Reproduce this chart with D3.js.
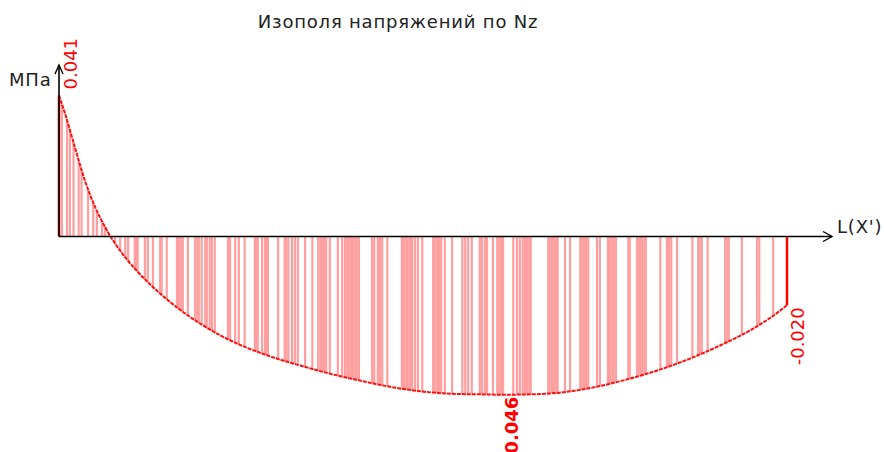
<!DOCTYPE html>
<html>
<head>
<meta charset="utf-8">
<script src="https://cdn.jsdelivr.net/npm/d3@7"></script>
<style>
  html, body { margin: 0; padding: 0; background: #fff; }
  svg { display: block; }
</style>
</head>
<body>
<svg id="chart" width="884" height="452"></svg>
<script>
// Stress diagram along the member length (stations in m, stresses in MPa)
const stations = [0, 0.082, 0.220, 0.357, 0.495, 0.632, 0.769, 0.907, 1.044, 1.250, 1.456, 1.662,
  1.937, 2.212, 2.486, 2.761, 3.036, 3.310, 3.723, 4.135, 4.547, 4.959, 5.371, 5.783, 6.126,
  6.607, 6.882, 7.157, 7.431, 7.706, 7.981, 8.255, 8.668, 9.080, 9.492, 9.767, 10];
const stress = [0.041, 0.0358, 0.0258, 0.0162, 0.0086, 0.0028, -0.0020, -0.0060, -0.0094, -0.0139,
  -0.0178, -0.0213, -0.0253, -0.0287, -0.0315, -0.0338, -0.0358, -0.0375, -0.0399, -0.0419, -0.0437,
  -0.0450, -0.0457, -0.0459, -0.046, -0.0458, -0.0454, -0.0446, -0.0435, -0.0421, -0.0405, -0.0387,
  -0.0355, -0.0317, -0.0273, -0.0237, -0.020];

// Mesh node positions (m) where the hatching is drawn
const meshNodes = [0.04, 0.11, 0.15, 0.20, 0.27, 0.31, 0.40, 0.47, 0.52, 0.59, 0.63, 0.68,
  0.77, 0.84, 0.91, 0.95, 1.04, 1.06, 1.08, 1.18, 1.22, 1.29, 1.39, 1.41, 1.48, 1.62, 1.65, 1.68, 1.70,
  1.77, 1.87, 1.90, 1.92, 1.96, 2.01, 2.03, 2.07, 2.10, 2.14, 2.32, 2.35, 2.42, 2.47, 2.55, 2.69, 2.71,
  2.73, 2.79, 2.83, 2.85, 2.87, 3.01, 3.10, 3.12, 3.15, 3.20, 3.24, 3.28, 3.38, 3.48, 3.56, 3.59, 3.61,
  3.64, 3.67, 3.72, 3.83, 3.89, 3.93, 3.96, 3.98, 4.01, 4.04, 4.07, 4.09, 4.12, 4.30, 4.33, 4.38, 4.41,
  4.44, 4.51, 4.71, 4.74, 4.77, 4.79, 4.82, 4.85, 4.89, 4.93, 4.99, 5.14, 5.16, 5.19, 5.22, 5.25, 5.30,
  5.40, 5.54, 5.58, 5.62, 5.67, 5.78, 5.81, 5.85, 5.88, 5.96, 6.02, 6.04, 6.07, 6.10, 6.24, 6.29, 6.33,
  6.37, 6.40, 6.43, 6.46, 6.48, 6.72, 6.74, 6.77, 6.80, 6.83, 6.85, 6.95, 7.02, 7.16, 7.18, 7.21, 7.24,
  7.27, 7.39, 7.43, 7.54, 7.57, 7.60, 7.62, 7.65, 7.82, 7.84, 7.94, 7.95, 7.98, 8.01, 8.04, 8.06, 8.26,
  8.35, 8.38, 8.41, 8.49, 8.70, 8.78, 8.80, 8.83, 8.91, 9.15, 9.18, 9.20, 9.38, 9.59, 9.62, 9.81];

// Values marked with a label: start, extreme and end of the diagram
const labelled = [
  { s: 0, v: 0.041, text: "0.041", bold: false, dx: 18 },
  { s: 6.126, v: -0.046, text: "-0.046", bold: true, dx: 13 },
  { s: 10, v: -0.020, text: "-0.020", bold: false, dx: 17 }
];

const titleText = "Изополя напряжений по Nz";
const unitText = "МПа";
const axisText = "L(X')";

const svg = d3.select("#chart");
const font = "'DejaVu Sans', Verdana, sans-serif";

const x = d3.scaleLinear().domain([0, 10]).range([59, 787]);
const y = d3.scaleLinear().domain([-0.046, 0.041]).range([394.7, 95.5]);
const y0 = y(0);

const pts = stations.map((s, i) => [s, stress[i]]);

// Area between the axis and the diagram, used to clip the hatching
const area = d3.area().x(d => x(d[0])).y0(y0).y1(d => y(d[1])).curve(d3.curveMonotoneX);
svg.append("clipPath").attr("id", "diagram-clip")
  .append("path").attr("d", area(pts));

svg.append("g").attr("clip-path", "url(#diagram-clip)")
  .selectAll("line").data(meshNodes).join("line")
  .attr("x1", d => x(d)).attr("x2", d => x(d))
  .attr("y1", y.range()[1] - 5).attr("y2", y.range()[0] + 5)
  .attr("stroke", "#ff9f9f").attr("stroke-width", 2.2);

// Ordinates at the ends of the diagram
svg.selectAll("line.end").data([pts[0], pts[pts.length - 1]]).join("line")
  .attr("class", "end")
  .attr("x1", d => x(d[0])).attr("x2", d => x(d[0]))
  .attr("y1", y0).attr("y2", d => y(d[1]))
  .attr("stroke", "#ff0000").attr("stroke-width", 2.5);

// Diagram outline
const line = d3.line().x(d => x(d[0])).y(d => y(d[1])).curve(d3.curveMonotoneX);
svg.append("path").attr("d", line(pts))
  .attr("fill", "none").attr("stroke", "#ff1010").attr("stroke-width", 2)
  .attr("stroke-dasharray", "4,1");

// Axes with open arrowheads
const xEnd = x.range()[1] + 45;
const yTop = 65;
svg.append("line").attr("x1", x(0)).attr("x2", xEnd).attr("y1", y0).attr("y2", y0)
  .attr("stroke", "#000").attr("stroke-width", 1.6);
svg.append("path").attr("d", `M${xEnd - 9},${y0 - 5}L${xEnd},${y0}L${xEnd - 9},${y0 + 5}`)
  .attr("fill", "none").attr("stroke", "#000").attr("stroke-width", 1.4);
svg.append("line").attr("x1", x(0)).attr("x2", x(0)).attr("y1", y0).attr("y2", yTop)
  .attr("stroke", "#000").attr("stroke-width", 1.6);
svg.append("path").attr("d", `M${x(0) - 4},${yTop + 9}L${x(0)},${yTop}L${x(0) + 4},${yTop + 9}`)
  .attr("fill", "none").attr("stroke", "#000").attr("stroke-width", 1.4);

// Value labels, written along the ordinate away from the axis
svg.selectAll("text.val").data(labelled).join("text")
  .attr("class", "val")
  .attr("transform", d => {
    const px = x(d.s) + d.dx;
    const py = d.v > 0 ? y(d.v) - 6 : y(d.v) + 2;
    return `translate(${px},${py}) rotate(-90)`;
  })
  .attr("text-anchor", d => d.v > 0 ? "start" : "end")
  .attr("font-family", font).attr("font-size", 18)
  .attr("font-weight", d => d.bold ? "bold" : "normal")
  .attr("fill", "#ff0000")
  .text(d => d.text);

const caption = (text, tx, ty, anchor) => svg.append("text")
  .attr("x", tx).attr("y", ty).attr("text-anchor", anchor)
  .attr("font-family", font).attr("font-size", 18).attr("letter-spacing", 0.8)
  .attr("fill", "#222").text(text);

caption(titleText, 398, 28, "middle");
caption(unitText, 9, 86, "start");
caption(axisText, 837, 233, "start");
</script>
</body>
</html>
